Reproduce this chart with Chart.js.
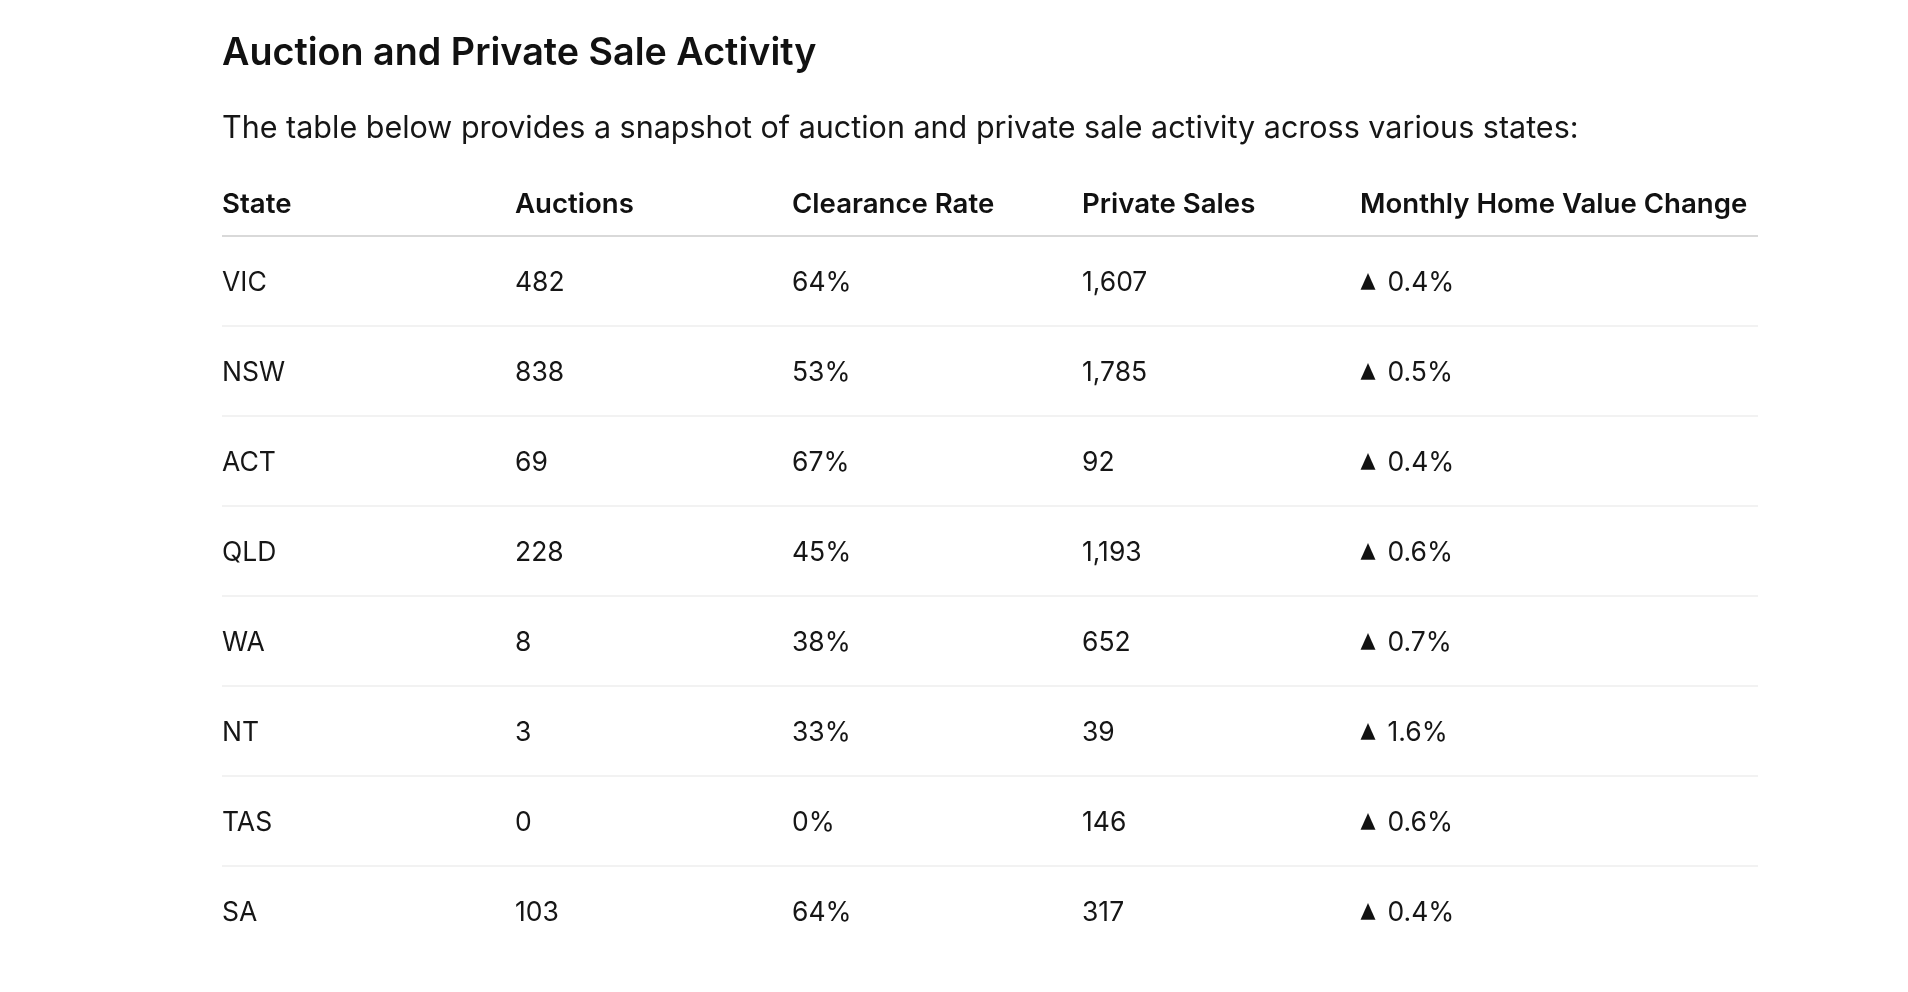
<!DOCTYPE html>
<html><head><meta charset="utf-8">
<script src="https://cdn.jsdelivr.net/npm/chart.js@4.4.1/dist/chart.umd.min.js"></script>
<style>
html,body{margin:0;padding:0;background:#fff;overflow:hidden;}
#wrap{position:relative;width:1908px;height:992px;}
canvas{display:block;}
</style></head>
<body><div id="wrap"><canvas id="c" width="1908" height="992" style="width:1908px;height:992px"></canvas></div>
<script>
// ---- data ----
const titleText = 'Auction and Private Sale Activity';
const subtitleText = 'The table below provides a snapshot of auction and private sale activity across various states:';
const columns = ['State', 'Auctions', 'Clearance Rate', 'Private Sales', 'Monthly Home Value Change'];
const states = ['VIC', 'NSW', 'ACT', 'QLD', 'WA', 'NT', 'TAS', 'SA'];
const auctions = [482, 838, 69, 228, 8, 3, 0, 103];
const clearanceRates = [64, 53, 67, 45, 38, 33, 0, 64];
const privateSales = [1607, 1785, 92, 1193, 652, 39, 146, 317];
const monthlyChange = [0.4, 0.5, 0.4, 0.6, 0.7, 1.6, 0.6, 0.4];

// ---- layout / style (not data) ----
const colWidths = [293, 277, 290, 278, 398];
const FONT = 'Inter, "Noto Sans", sans-serif';
const bodySize = 26.5, headSize = 27.6, titleSize = 37.7, subSize = 30.5;

const colStarts = colWidths.reduce((a, w, i) => { a.push(i ? a[i - 1] + colWidths[i - 1] : 0); return a; }, []);
const tableWidth = colWidths.reduce((a, b) => a + b, 0);

function cellText(c, i) {
  switch (c) {
    case 0: return states[i];
    case 1: return String(auctions[i]);
    case 2: return clearanceRates[i] + '%';
    case 3: return privateSales[i].toLocaleString('en-US');
    case 4: return monthlyChange[i].toFixed(1) + '%';
  }
}

const tablePlugin = {
  id: 'tableCells',
  afterDraw(chart) {
    const ctx = chart.ctx, xs = chart.scales.x, ys = chart.scales.y;
    const top = chart.chartArea.top;
    ctx.save();
    ctx.textAlign = 'left';
    ctx.textBaseline = 'alphabetic';
    ctx.fillStyle = '#111111';
    ctx.font = '600 ' + headSize + 'px ' + FONT;
    columns.forEach((h, c) => ctx.fillText(h, xs.getPixelForValue(colStarts[c]), top - 23.5));
    ctx.fillStyle = '#161616';
    ctx.font = '400 ' + bodySize + 'px ' + FONT;
    const cap = bodySize * 0.727;
    states.forEach((s, i) => {
      const yb = ys.getPixelForValue(i) + cap / 2;
      for (let c = 0; c < columns.length; c++) {
        let x = xs.getPixelForValue(colStarts[c]);
        if (c === 4) {
          const arrow = monthlyChange[i] >= 0 ? '\u25B2' : '\u25BC';
          ctx.save();
          ctx.fillStyle = '#111111';
          ctx.font = '400 ' + bodySize + 'px "DejaVu Sans"';
          const m = ctx.measureText(arrow);
          const gw = m.actualBoundingBoxRight + m.actualBoundingBoxLeft;
          const gh = m.actualBoundingBoxAscent + m.actualBoundingBoxDescent;
          const sx = 15.5 / gw, sy = 18 / gh;
          ctx.translate(x + 0.5, yb);
          ctx.scale(sx, sy);
          ctx.fillText(arrow, m.actualBoundingBoxLeft, -m.actualBoundingBoxDescent);
          ctx.restore();
          ctx.font = '400 ' + bodySize + 'px ' + FONT;
          x += 27.5;
        }
        ctx.fillText(cellText(c, i), x, yb);
      }
    });
    ctx.restore();
  }
};

new Chart(document.getElementById('c'), {
  type: 'bar',
  data: { labels: states, datasets: [{ data: [] }] },
  options: {
    indexAxis: 'y',
    responsive: false,
    animation: false,
    devicePixelRatio: 1,
    layout: { padding: { left: 222, right: 1908 - 222 - tableWidth, top: 0, bottom: 36 } },
    plugins: {
      legend: { display: false },
      tooltip: { enabled: false },
      title: {
        display: true, text: titleText, align: 'start', color: '#111111',
        font: { family: FONT, size: titleSize, weight: '600', lineHeight: '46px' },
        padding: { top: 31, bottom: 0 }
      },
      subtitle: {
        display: true, text: subtitleText, align: 'start', color: '#161616',
        font: { family: FONT, size: subSize, weight: '400', lineHeight: '37px' },
        padding: { top: 33, bottom: 89 }
      }
    },
    scales: {
      x: { type: 'linear', min: 0, max: tableWidth, display: false },
      y: {
        type: 'category', offset: true,
        ticks: { display: false },
        border: { display: false },
        grid: {
          offset: true, drawTicks: false, lineWidth: 2,
          color: (ctx) => (ctx.type !== 'tick' || ctx.index >= states.length) ? 'rgba(0,0,0,0)' : (ctx.index === 0 ? '#d9d9d9' : '#f2f2f2')
        }
      }
    }
  },
  plugins: [tablePlugin]
});
</script>
</body></html>
